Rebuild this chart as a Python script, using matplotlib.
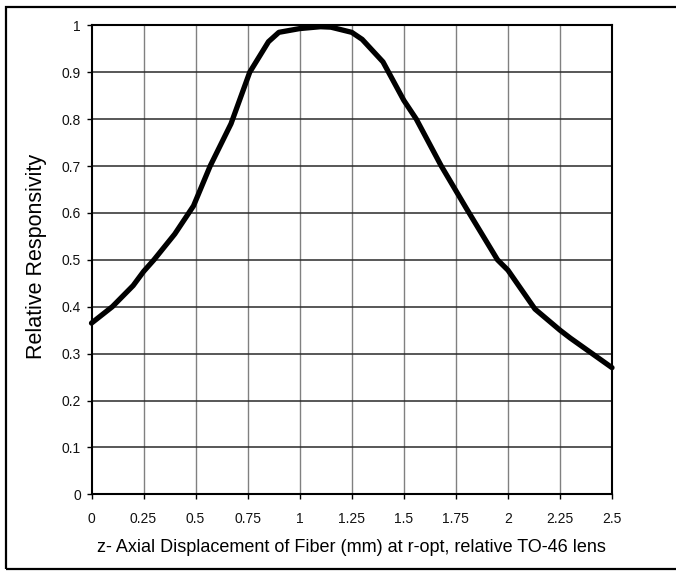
import matplotlib
matplotlib.use("Agg")
import matplotlib.pyplot as plt
from matplotlib.patches import Rectangle
import numpy as np

plt.rcParams['font.family'] = ['Liberation Sans', 'DejaVu Sans']

# values
z_mm = [0, 0.1, 0.2, 0.25, 0.3, 0.4, 0.49, 0.57, 0.67, 0.76, 0.85, 0.9,
        1.0, 1.1, 1.15, 1.25, 1.3, 1.4, 1.5, 1.56, 1.68, 1.8, 1.95, 2.0,
        2.13, 2.25, 2.3, 2.5]
resp = [0.365, 0.40, 0.445, 0.475, 0.50, 0.555, 0.615, 0.70, 0.79, 0.90,
        0.965, 0.985, 0.993, 0.997, 0.996, 0.985, 0.97, 0.922, 0.84, 0.80,
        0.70, 0.61, 0.50, 0.478, 0.395, 0.35, 0.333, 0.27]

x_ticks = [0, 0.25, 0.5, 0.75, 1, 1.25, 1.5, 1.75, 2, 2.25, 2.5]
x_labels = ['0', '0.25', '0.5', '0.75', '1', '1.25', '1.5', '1.75', '2', '2.25', '2.5']
y_ticks = [0, 0.1, 0.2, 0.3, 0.4, 0.5, 0.6, 0.7, 0.8, 0.9, 1]
y_labels = ['0', '0.1', '0.2', '0.3', '0.4', '0.5', '0.6', '0.7', '0.8', '0.9', '1']

W, H = 676, 574
fig = plt.figure(figsize=(W / 100, H / 100), dpi=100)
ax = fig.add_axes([91.5 / W, 1 - 494.3 / H, (612 - 91.5) / W, (494.3 - 25.3) / H])

ax.set_xlim(0, 2.5)
ax.set_ylim(0, 1)
ax.set_xticks(x_ticks)
ax.set_xticklabels(x_labels)
ax.set_yticks(y_ticks)
ax.set_yticklabels(y_labels)

# grid: vertical gray, horizontal dark
for xv in x_ticks[1:-1]:
    ax.axvline(xv, color='#808080', lw=1.0, zorder=1)
for yv in y_ticks[1:-1]:
    ax.axhline(yv, color='#2a2a2a', lw=1.1, zorder=1)

ax.plot(z_mm, resp, color='black', lw=3.8, solid_capstyle='round',
        solid_joinstyle='round', zorder=3, clip_on=False)

for side in ['left', 'bottom', 'right', 'top']:
    ax.spines[side].set_color('black')
    ax.spines[side].set_linewidth(1.5)
ax.tick_params(direction='out', length=3.5, width=1, labelsize=10, color='black',
               labelcolor='#111111')
ax.tick_params(axis='x', pad=9)
ax.tick_params(axis='y', pad=4)

fig.text(37 / W, 1 - 256 / H, 'Relative Responsivity', rotation=90,
         ha='center', va='center', fontsize=15.5)
fig.text(351 / W, 1 - 548 / H,
         'z- Axial Displacement of Fiber (mm) at r-opt, relative TO-46 lens',
         ha='center', va='center', fontsize=13)

# outer frame (right edge runs off the picture)
fig.patches.append(Rectangle((6 / W, 1 - 569 / H), 1.0, (569 - 7) / H,
                             transform=fig.transFigure, fill=False,
                             edgecolor='black', lw=1.6, clip_on=False))

fig.savefig('out.png', dpi=100)
